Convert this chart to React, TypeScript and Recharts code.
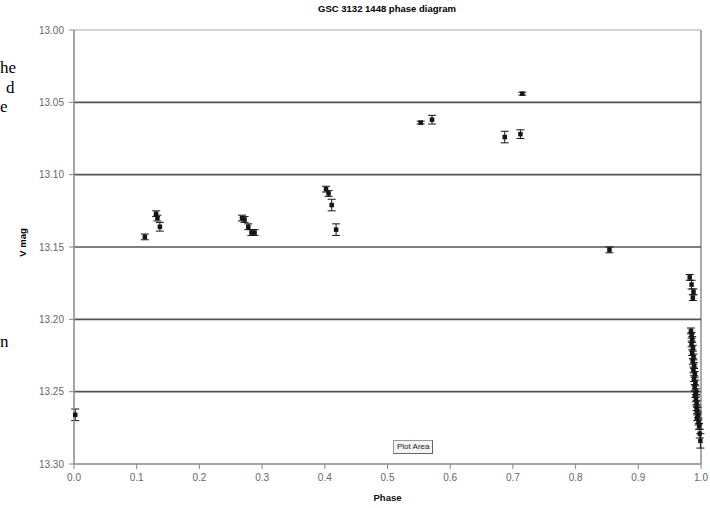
import { ScatterChart, Scatter, XAxis, YAxis, ErrorBar, ReferenceLine, Label } from 'recharts';

// phase, V magnitude and error
const phases = [
  0.002, 0.113, 0.131, 0.133, 0.137, 0.268, 0.272, 0.278, 0.283, 0.288,
  0.402, 0.406, 0.411, 0.418, 0.553, 0.571, 0.687, 0.712, 0.715, 0.854,
  0.982, 0.985, 0.988, 0.987,
  0.984, 0.985, 0.986, 0.985, 0.987, 0.986, 0.988, 0.987, 0.989, 0.988,
  0.990, 0.989, 0.991, 0.990, 0.992, 0.991, 0.992, 0.993, 0.993, 0.994,
  0.995, 0.994, 0.996, 0.997, 0.998, 0.999,
];
const mags = [
  13.266, 13.143, 13.127, 13.130, 13.136, 13.130, 13.131, 13.136, 13.140, 13.140,
  13.110, 13.113, 13.121, 13.138, 13.064, 13.062, 13.074, 13.072, 13.044, 13.152,
  13.171, 13.176, 13.181, 13.185,
  13.208, 13.211, 13.214, 13.217, 13.220, 13.223, 13.226, 13.229, 13.232, 13.235,
  13.238, 13.241, 13.244, 13.247, 13.250, 13.252, 13.255, 13.258, 13.261, 13.263,
  13.266, 13.268, 13.271, 13.274, 13.279, 13.284,
];
const errs = [
  0.004, 0.002, 0.002, 0.002, 0.003, 0.002, 0.002, 0.002, 0.002, 0.002,
  0.002, 0.002, 0.004, 0.004, 0.001, 0.003, 0.004, 0.003, 0.001, 0.002,
  0.002, 0.003, 0.002, 0.002,
  0.002, 0.002, 0.002, 0.002, 0.002, 0.002, 0.002, 0.002, 0.002, 0.002,
  0.002, 0.002, 0.002, 0.002, 0.002, 0.002, 0.002, 0.002, 0.002, 0.002,
  0.002, 0.002, 0.002, 0.002, 0.003, 0.005,
];

const xTicks = [0, 0.1, 0.2, 0.3, 0.4, 0.5, 0.6, 0.7, 0.8, 0.9, 1.0];
const yTicks = [13.0, 13.05, 13.1, 13.15, 13.2, 13.25, 13.3];
const gridMags = [13.05, 13.1, 13.15, 13.2, 13.25];

const data = phases.map((p, i) => ({ phase: p, mag: mags[i], err: errs[i] }));

const tickStyle = { fill: '#666', fontSize: 10, fontFamily: 'Liberation Sans, Arial, sans-serif' };

const Marker = (props: any) => {
  const { cx, cy } = props;
  return <rect x={cx - 2.25} y={cy - 2.25} width={4.5} height={4.5} fill="#151515" />;
};

export default function App() {
  return (
    <div style={{ position: 'absolute', left: 0, top: 0, width: 710, height: 508, overflow: 'hidden', background: '#fff' }}>
      {/* bits of the page text behind the chart */}
      <div style={{ position: 'absolute', left: 0, top: 58, fontFamily: 'Liberation Serif, serif', fontSize: 17 }}>he</div>
      <div style={{ position: 'absolute', left: 6, top: 78, fontFamily: 'Liberation Serif, serif', fontSize: 17 }}>d</div>
      <div style={{ position: 'absolute', left: 0, top: 97, fontFamily: 'Liberation Serif, serif', fontSize: 17 }}>e</div>
      <div style={{ position: 'absolute', left: 0, top: 332, fontFamily: 'Liberation Serif, serif', fontSize: 17 }}>n</div>

      <div style={{ position: 'absolute', left: 287, width: 200, top: 3, textAlign: 'center', fontFamily: 'Liberation Sans, Arial, sans-serif', fontWeight: 'bold', fontSize: 9.5 }}>
        GSC 3132 1448 phase diagram
      </div>
      <div style={{ position: 'absolute', left: -8, top: 237, width: 60, textAlign: 'center', transform: 'rotate(-90deg)', fontFamily: 'Liberation Sans, Arial, sans-serif', fontWeight: 'bold', fontSize: 9.5 }}>
        V mag
      </div>

      <ScatterChart width={710} height={508} margin={{ top: 30, right: 9, bottom: 0, left: 0 }}>
        <XAxis
          type="number"
          dataKey="phase"
          domain={[0, 1]}
          ticks={xTicks}
          tickFormatter={(v: number) => v.toFixed(1)}
          height={44}
          tickSize={5}
          tickMargin={5}
          tick={tickStyle}
          axisLine={{ stroke: '#888', strokeWidth: 1.5 }}
          tickLine={{ stroke: '#888' }}
        >
          <Label value="Phase" position="insideBottom" offset={7} style={{ fill: '#111', fontWeight: 'bold', fontSize: 9.5, fontFamily: 'Liberation Sans, Arial, sans-serif' }} />
        </XAxis>
        <YAxis
          type="number"
          dataKey="mag"
          domain={[13.0, 13.3]}
          reversed
          allowDataOverflow
          ticks={yTicks}
          tickFormatter={(v: number) => v.toFixed(2)}
          width={74}
          tickSize={5}
          tickMargin={5}
          tick={tickStyle}
          axisLine={{ stroke: '#888', strokeWidth: 1.5 }}
          tickLine={{ stroke: '#888' }}
        />
        <ReferenceLine y={13.0} stroke="#d4d4d4" strokeWidth={2} />
        <ReferenceLine x={1.0} stroke="#aaa" strokeWidth={2} />
        {gridMags.map((m) => (
          <ReferenceLine key={m} y={m} stroke="#555" strokeWidth={1.6} />
        ))}
        <Scatter data={data} shape={Marker} isAnimationActive={false}>
          <ErrorBar dataKey="err" direction="y" width={4} stroke="#151515" strokeWidth={1} />
        </Scatter>
      </ScatterChart>

      <div style={{ position: 'absolute', left: 393, top: 440, padding: '0 3px', height: 12, lineHeight: '12px', border: '1px solid #999', borderRightColor: '#666', borderBottomColor: '#666', background: '#f4f4f4', fontFamily: 'Liberation Sans, Arial, sans-serif', fontSize: 8, color: '#222' }}>
        Plot Area
      </div>
    </div>
  );
}
